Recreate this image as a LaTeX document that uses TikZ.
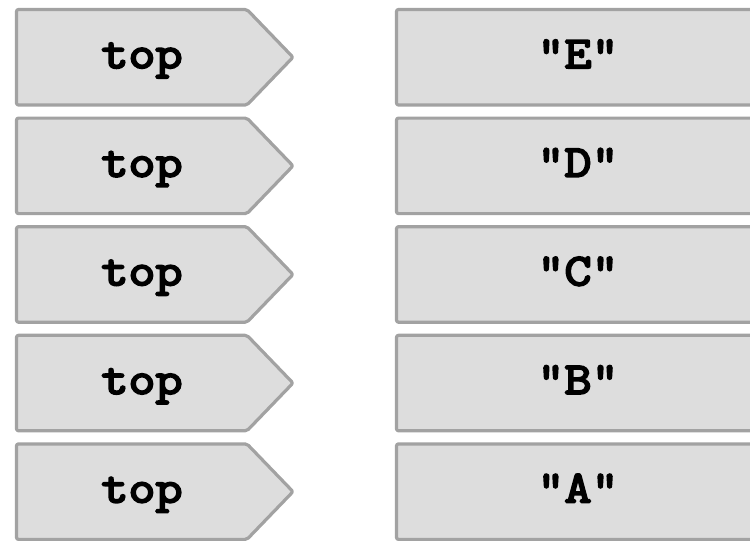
\documentclass[tikz,border=0pt]{standalone}
\usepackage{fontspec}
\newfontfamily\courfont{Latin Modern Mono}[FakeBold=4.5,FakeStretch=1.16]
\definecolor{boxfill}{HTML}{DDDDDD}
\definecolor{boxline}{HTML}{A2A2A2}
\tikzset{
  shapebox/.style={fill=boxfill, draw=boxline, line width=2.4pt, rounded corners=1.5pt, line join=round},
  lbl/.style={font=\courfont\bfseries\fontsize{34}{38}\selectfont, text=black, inner sep=0pt, anchor=base}
}
\begin{document}
\begin{tikzpicture}[x=0.75pt, y=-0.75pt]
\useasboundingbox (0,0) rectangle (750,540);
\clip (0,0) rectangle (750,540);
\foreach \i/\t in {0/E,1/D,2/C,3/B,4/A}{
  \pgfmathsetmacro{\top}{9.5+\i*108.6}
  \pgfmathsetmacro{\bot}{\top+95.5}
  \pgfmathsetmacro{\mid}{(\top+\bot)/2}
  \draw[shapebox] (16.5,\top) -- (247,\top) -- (293,\mid) -- (247,\bot) -- (16.5,\bot) -- cycle;
  \draw[shapebox] (396.5,\top) rectangle (757,\bot);
  \node[lbl] (l\t) at (142,\top+58.5) {top};
  \node[lbl] (r\t) at (578,\top+58.5) {"\t"};
}
\end{tikzpicture}
\end{document}
